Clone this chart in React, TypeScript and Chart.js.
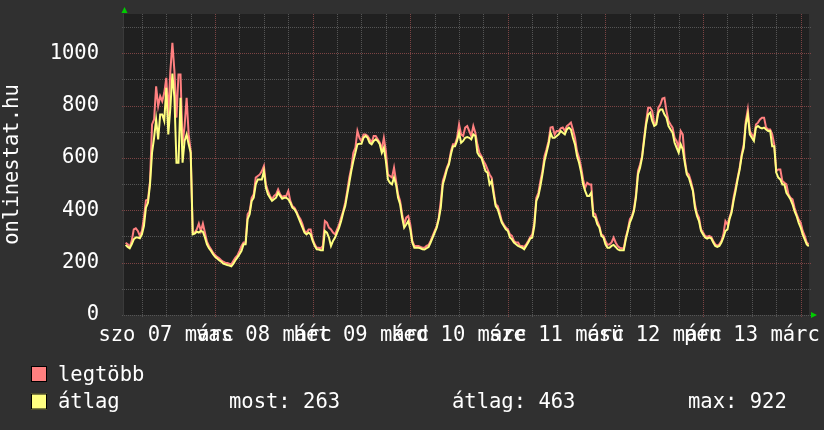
import React, { useEffect, useRef } from "react";
import { Chart, registerables } from "chart.js";

Chart.register(...registerables);

// time axis: hours relative to midnight of 07 márc, half-hour samples
const START_HOUR = -22;
const STEP_HOURS = 0.5;

const maxValues = [
  276, 270, 260, 283, 327, 331, 321, 302, 321, 372, 438, 442,
  512, 728, 747, 874, 798, 836, 817, 849, 906, 760, 932, 1040,
  932, 754, 919, 919, 652, 722, 830, 690, 626, 315, 315, 327,
  349, 321, 349, 315, 280, 264, 251, 238, 229, 222, 217, 209,
  204, 200, 199, 196, 194, 207, 219, 228, 245, 264, 277, 277,
  385, 397, 448, 461, 525, 531, 537, 550, 569, 499, 474, 455,
  442, 455, 461, 480, 461, 451, 455, 455, 474, 436, 416, 410,
  397, 378, 366, 346, 321, 315, 327, 327, 289, 270, 257, 257,
  255, 264, 359, 353, 334, 327, 315, 308, 327, 346, 372, 397,
  429, 474, 525, 563, 620, 639, 703, 677, 664, 690, 690, 684,
  671, 658, 684, 684, 671, 658, 633, 677, 626, 537, 531, 525,
  563, 512, 461, 436, 385, 346, 372, 378, 346, 283, 264, 264,
  264, 260, 257, 257, 264, 268, 283, 302, 321, 340, 372, 436,
  512, 537, 563, 582, 626, 652, 652, 677, 728, 690, 684, 716,
  722, 703, 684, 722, 696, 652, 620, 607, 588, 575, 556, 537,
  525, 474, 423, 416, 391, 359, 346, 334, 327, 308, 302, 283,
  277, 277, 264, 264, 260, 270, 283, 298, 308, 353, 448, 467,
  512, 550, 607, 633, 664, 716, 718, 690, 703, 703, 713, 716,
  703, 722, 728, 735, 709, 677, 626, 601, 566, 518, 486, 505,
  499, 499, 391, 385, 359, 340, 308, 302, 283, 268, 270, 277,
  296, 277, 264, 257, 255, 255, 296, 327, 366, 378, 404, 461,
  550, 575, 607, 677, 741, 792, 792, 779, 728, 735, 792, 804,
  827, 830, 779, 741, 728, 716, 677, 664, 639, 703, 690, 595,
  544, 537, 512, 480, 423, 388, 372, 327, 315, 302, 298, 302,
  298, 283, 270, 264, 270, 283, 308, 359, 346, 372, 397, 448,
  486, 525, 563, 614, 652, 741, 785, 703, 690, 677, 728, 735,
  747, 754, 754, 716, 709, 709, 690, 652, 550, 556, 556, 512,
  505, 499, 461, 448, 442, 410, 385, 366, 353, 321, 302, 277,
  270,
];

const avgValues = [
  268, 260, 255, 270, 289, 296, 296, 293, 308, 340, 410, 429,
  499, 620, 677, 747, 671, 766, 766, 741, 868, 690, 792, 922,
  830, 582, 582, 830, 582, 665, 690, 652, 620, 308, 311, 318,
  315, 321, 318, 296, 270, 255, 245, 232, 222, 216, 209, 204,
  196, 194, 191, 189, 186, 196, 209, 220, 232, 245, 270, 270,
  366, 385, 436, 448, 499, 518, 518, 518, 550, 486, 461, 448,
  436, 442, 448, 467, 455, 444, 448, 448, 442, 429, 410, 404,
  391, 372, 353, 334, 315, 308, 315, 308, 283, 264, 251, 250,
  247, 247, 321, 315, 296, 264, 283, 296, 315, 334, 359, 391,
  416, 461, 505, 550, 588, 620, 652, 654, 654, 677, 684, 677,
  658, 652, 665, 671, 665, 652, 620, 639, 588, 518, 505, 499,
  525, 499, 448, 423, 372, 334, 346, 359, 327, 277, 257, 257,
  257, 255, 251, 250, 255, 260, 277, 296, 315, 334, 366, 410,
  499, 525, 556, 575, 614, 645, 645, 665, 696, 658, 665, 677,
  680, 677, 671, 690, 684, 620, 607, 601, 575, 550, 544, 499,
  512, 461, 416, 404, 378, 353, 340, 327, 321, 296, 289, 277,
  270, 264, 260, 257, 251, 264, 277, 292, 296, 340, 436, 455,
  493, 537, 588, 620, 652, 696, 677, 677, 684, 690, 703, 696,
  690, 709, 716, 709, 677, 652, 607, 582, 546, 499, 474, 455,
  455, 467, 378, 372, 346, 334, 302, 296, 270, 257, 257, 264,
  268, 260, 251, 247, 247, 247, 289, 321, 353, 372, 397, 448,
  537, 563, 601, 665, 728, 766, 773, 741, 722, 728, 773, 785,
  785, 766, 754, 722, 709, 696, 658, 639, 620, 652, 633, 582,
  537, 525, 499, 474, 410, 378, 359, 321, 308, 296, 292, 296,
  293, 277, 264, 260, 264, 277, 296, 321, 327, 366, 391, 436,
  474, 518, 556, 607, 639, 728, 766, 690, 677, 665, 716, 722,
  716, 713, 716, 709, 703, 703, 645, 645, 544, 525, 518, 499,
  499, 467, 455, 442, 423, 397, 378, 353, 334, 308, 289, 270,
  263,
];

const dayLabels = [
  "szo 07 márc",
  "vas 08 márc",
  "hét 09 márc",
  "ked 10 márc",
  "sze 11 márc",
  "csü 12 márc",
  "pén 13 márc",
];
const dayLabelHours = [-12, 12, 36, 60, 84, 108, 132];
const yTickValues = [0, 200, 400, 600, 800, 1000];
const seriesNames = ["legtöbb", "átlag"];
const statTexts = ["most: 263", "átlag: 463", "max: 922"];

const X_MIN = -22.4;
const X_MAX = 146.05;
const Y_MAX = 1150;

const MAX_COLOR = "#ff8080";
const AVG_COLOR = "#ffff80";
const TEXT_COLOR = "#ffffff";
const FONT_FAMILY = "'DejaVu Sans Mono', monospace";
const FONT_SIZE = 20.5;

const toPoints = (vals: number[]) =>
  vals.map((v, i) => ({ x: START_HOUR + i * STEP_HOURS, y: v }));

const bgPlugin = {
  id: "bg",
  beforeDraw(chart: any) {
    const { ctx, chartArea: a } = chart;
    ctx.save();
    ctx.fillStyle = "#303030";
    ctx.fillRect(0, 0, chart.width, chart.height);
    ctx.fillStyle = "#202020";
    ctx.fillRect(a.left, a.top, a.right - a.left, a.bottom - a.top);
    ctx.restore();
  },
};

const gridPlugin = {
  id: "rrdgrid",
  beforeDatasetsDraw(chart: any) {
    const { ctx, chartArea: a } = chart;
    const xs = chart.scales.x;
    const ys = chart.scales.y;
    ctx.save();
    ctx.lineWidth = 1;
    ctx.setLineDash([1, 1]);
    for (let h = -18; h <= 144; h += 6) {
      const px = Math.round(xs.getPixelForValue(h)) + 0.5;
      ctx.strokeStyle = h % 24 === 0 ? "#7c4444" : "#555555";
      ctx.beginPath();
      ctx.moveTo(px, a.top);
      ctx.lineTo(px, a.bottom + 2);
      ctx.stroke();
    }
    for (let v = 0; v <= 1100; v += 100) {
      const py = Math.round(ys.getPixelForValue(v)) + 0.5;
      ctx.strokeStyle = v % 200 === 0 && v > 0 ? "#7c4444" : "#555555";
      ctx.beginPath();
      ctx.moveTo(a.left - 2, py);
      ctx.lineTo(a.right + 2, py);
      ctx.stroke();
    }
    ctx.setLineDash([]);
    ctx.strokeStyle = "#3a3a3a";
    ctx.beginPath();
    ctx.moveTo(a.left - 0.5, a.top);
    ctx.lineTo(a.left - 0.5, a.bottom);
    ctx.stroke();
    ctx.restore();
  },
};

const decorPlugin = {
  id: "decor",
  afterDraw(chart: any) {
    const { ctx, chartArea: a } = chart;
    ctx.save();
    // axis arrows
    ctx.fillStyle = "#00cc00";
    ctx.beginPath();
    ctx.moveTo(a.left + 0.5, a.top - 7);
    ctx.lineTo(a.left - 2.5, a.top - 1);
    ctx.lineTo(a.left + 3.5, a.top - 1);
    ctx.closePath();
    ctx.fill();
    ctx.beginPath();
    ctx.moveTo(a.right + 8, a.bottom);
    ctx.lineTo(a.right + 2, a.bottom - 3);
    ctx.lineTo(a.right + 2, a.bottom + 3);
    ctx.closePath();
    ctx.fill();

    // legend
    const colors = [MAX_COLOR, AVG_COLOR];
    const rowBase = [380.5, 408];
    ctx.font = `${FONT_SIZE}px ${FONT_FAMILY}`;
    ctx.textBaseline = "alphabetic";
    ctx.textAlign = "left";
    seriesNames.forEach((name, i) => {
      const top = rowBase[i] - 14.5;
      ctx.fillStyle = colors[i];
      ctx.fillRect(31, top, 16, 16);
      ctx.strokeStyle = "#000000";
      ctx.lineWidth = 1;
      ctx.strokeRect(31.5, top + 0.5, 15, 15);
      ctx.fillStyle = TEXT_COLOR;
      ctx.fillText(name, 58, rowBase[i]);
    });
    const statX = [229, 452, 688];
    statTexts.forEach((t, i) => {
      ctx.fillText(t, statX[i], rowBase[1]);
    });
    ctx.restore();
  },
};

export default function App() {
  const canvasRef = useRef<HTMLCanvasElement | null>(null);

  useEffect(() => {
    const canvas = canvasRef.current;
    if (!canvas) return;
    const font = { family: FONT_FAMILY, size: FONT_SIZE };
    const chart = new Chart(canvas, {
      type: "line",
      data: {
        datasets: [
          {
            label: seriesNames[1],
            data: toPoints(avgValues),
            borderColor: AVG_COLOR,
            borderWidth: 2,
            pointRadius: 0,
            tension: 0,
            fill: false,
            order: 0,
          },
          {
            label: seriesNames[0],
            data: toPoints(maxValues),
            borderColor: MAX_COLOR,
            borderWidth: 2,
            pointRadius: 0,
            tension: 0,
            fill: false,
            order: 1,
          },
        ],
      },
      options: {
        animation: false,
        responsive: false,
        devicePixelRatio: 1,
        layout: { padding: { left: 0, right: 15, top: 14, bottom: 0 } },
        plugins: {
          legend: { display: false },
          tooltip: { enabled: false },
        },
        scales: {
          x: {
            type: "linear",
            min: X_MIN,
            max: X_MAX,
            grid: { display: false },
            border: { display: false },
            afterBuildTicks: (s: any) => {
              s.ticks = dayLabelHours.map((v) => ({ value: v }));
            },
            afterFit: (s: any) => {
              s.height = 115;
              s.paddingLeft = 0;
              s.paddingRight = 0;
            },
            ticks: {
              autoSkip: false,
              maxRotation: 0,
              minRotation: 0,
              color: TEXT_COLOR,
              font,
              padding: 0,
              callback: (v: any) => {
                const i = dayLabelHours.indexOf(Number(v));
                return i >= 0 ? dayLabels[i] : "";
              },
            },
          },
          y: {
            type: "linear",
            min: 0,
            max: Y_MAX,
            grid: { display: false },
            border: { display: false },
            afterBuildTicks: (s: any) => {
              s.ticks = yTickValues.map((v) => ({ value: v }));
            },
            afterFit: (s: any) => {
              s.width = 124;
              s.paddingTop = 0;
              s.paddingBottom = 0;
            },
            ticks: {
              color: TEXT_COLOR,
              font,
              padding: 17,
              callback: (v: any) => String(v),
            },
            title: {
              display: true,
              text: "onlinestat.hu",
              color: TEXT_COLOR,
              font,
              padding: 0,
            },
          },
        },
      },
      plugins: [bgPlugin, gridPlugin, decorPlugin],
    } as any);
    return () => chart.destroy();
  }, []);

  return (
    <div
      style={{
        position: "fixed",
        left: 0,
        top: 0,
        width: 824,
        height: 430,
        background: "#303030",
      }}
    >
      <canvas ref={canvasRef} width={824} height={430} />
    </div>
  );
}
